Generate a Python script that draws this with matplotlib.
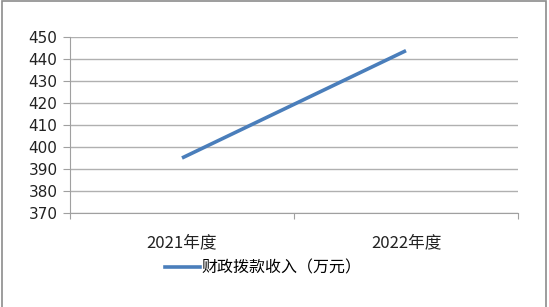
import matplotlib
matplotlib.use("Agg")
import matplotlib.pyplot as plt
from matplotlib.patches import Rectangle
from matplotlib.lines import Line2D

plt.rcParams['font.family'] = ['Noto Sans CJK SC', 'DejaVu Sans']

categories = ["2021年度", "2022年度"]
values = [395.0, 443.8]
series_name = "财政拨款收入（万元）"
yticks = [370, 380, 390, 400, 410, 420, 430, 440, 450]

W, H = 549, 307
fig = plt.figure(figsize=(W/100, H/100), dpi=100)
ax = fig.add_axes([70/W, (H-213)/H, (518-70)/W, (213-37)/H])

x = list(range(len(categories)))
ax.plot(x, values, color='#4a7ebb', lw=2.6, solid_capstyle='butt')
ax.set_xlim(-0.5, len(categories)-0.5)
ax.set_ylim(370, 450)
ax.set_yticks(yticks)
ax.set_yticklabels([str(v) for v in yticks], fontsize=11, color='#222222', family='DejaVu Sans')
ax.yaxis.grid(True, color='#b0b0b0', lw=1)
ax.set_axisbelow(True)
ax.set_xticks([i + 0.5 for i in range(-1, len(categories))])
ax.set_xticklabels([])
ax.set_xticks(x, minor=True)
ax.set_xticklabels(categories, minor=True, fontsize=12, color='#222222')
ax.tick_params(axis='x', which='minor', length=0, pad=15)
ax.tick_params(axis='x', which='major', length=4, color='#a0a0a0', direction='out')
ax.tick_params(axis='y', length=5, color='#a0a0a0', direction='out', pad=4)
for s in ['top', 'right']:
    ax.spines[s].set_visible(False)
ax.spines['left'].set_color('#a0a0a0')
ax.spines['bottom'].set_color('#a0a0a0')

handle = Line2D([0], [0], color='#4a7ebb', lw=2.6)
leg = fig.legend([handle], [series_name], loc='center', bbox_to_anchor=(263/W, (H-268)/H),
                 frameon=False, fontsize=11.5, handlelength=2.2, handletextpad=0.1)

fig.patches.append(Rectangle((2/W, -0.05), (546-2)/W, (H-1)/H + 0.05, transform=fig.transFigure,
                             fill=False, edgecolor='#8c8c8c', lw=1.2))

fig.savefig("out.png", dpi=100)
